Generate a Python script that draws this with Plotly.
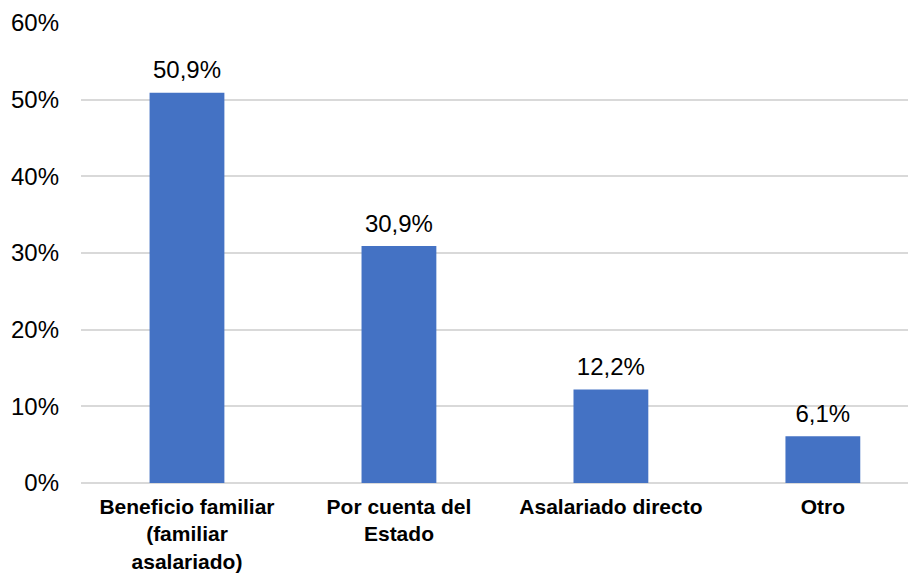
import plotly.graph_objects as go

CATEGORIAS = [
    "<b>Beneficio familiar<br>(familiar<br>asalariado)</b>",
    "<b>Por cuenta del<br>Estado</b>",
    "<b>Asalariado directo</b>",
    "<b>Otro</b>",
]
VALORES = [0.509, 0.309, 0.122, 0.061]

AZUL = "#4472C4"
GRID = "#D9D9D9"
FONT = "Liberation Sans, Arial, sans-serif"

fig = go.Figure()
fig.add_trace(
    go.Bar(
        x=CATEGORIAS,
        y=VALORES,
        width=0.353,
        marker=dict(color=AZUL, line=dict(width=0)),
        hoverinfo="skip",
    )
)
# etiquetas de datos, separadas del borde de la barra
fig.add_trace(
    go.Scatter(
        x=CATEGORIAS,
        y=VALORES,
        mode="markers+text",
        marker=dict(size=12, opacity=0),
        text=[f"{v * 100:.1f}%".replace(".", ",") for v in VALORES],
        textposition="top center",
        textfont=dict(size=24, color="#000000", family=FONT),
        cliponaxis=False,
        hoverinfo="skip",
    )
)

# la página añade 8 px de margen al body
fig.update_layout(
    width=908,
    height=568,
    margin=dict(l=73, r=2, t=15, b=93, autoexpand=False),
    paper_bgcolor="white",
    plot_bgcolor="white",
    font=dict(family=FONT, size=24, color="#000000"),
    separators=",.",
    showlegend=False,
)
fig.update_xaxes(
    range=[-0.5, 3.43],
    showgrid=False,
    showline=False,
    ticks="",
    automargin=False,
    ticklabelstandoff=9,
    tickfont=dict(size=21),
)
fig.update_yaxes(
    range=[0, 0.6],
    dtick=0.1,
    tickformat=".0%",
    showgrid=True,
    gridcolor=GRID,
    gridwidth=1.5,
    zeroline=True,
    zerolinecolor=GRID,
    zerolinewidth=1.5,
    ticks="",
    automargin=False,
    ticklabelstandoff=21,
    tickfont=dict(size=24),
)

fig.write_html("out.html")
